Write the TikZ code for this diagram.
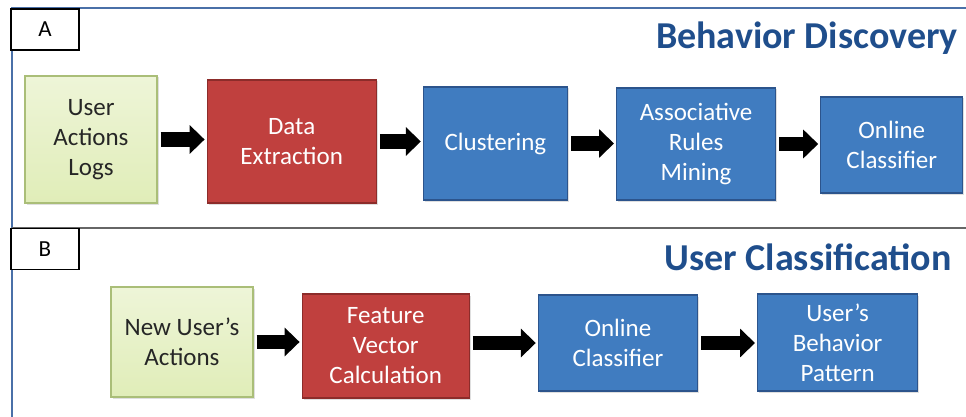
\documentclass[tikz,border=0pt]{standalone}
\usepackage{fontspec}
\setmainfont{Carlito}
\usetikzlibrary{arrows.meta, positioning, shadows}

\definecolor{frameblue}{RGB}{74,112,168}
\definecolor{titleblue}{RGB}{31,78,140}
\definecolor{boxblue}{RGB}{64,124,192}
\definecolor{boxblueline}{RGB}{44,84,140}
\definecolor{boxred}{RGB}{192,64,62}
\definecolor{boxredline}{RGB}{140,44,42}
\definecolor{boxgreen}{RGB}{224,237,184}
\definecolor{boxgreentop}{RGB}{238,245,216}
\definecolor{boxgreenline}{RGB}{170,190,120}

\begin{document}
\begin{tikzpicture}[
    x=1pt, y=-1pt,
    node distance=10pt and 48pt,
    box/.style={rectangle, draw, line width=1.2pt, inner sep=2pt, align=center, font=\fontsize{25}{30}\selectfont, drop shadow={shadow xshift=1.5pt, shadow yshift=-1.5pt, opacity=0.25}},
    logbox/.style={box, draw=boxgreenline, top color=boxgreentop, bottom color=boxgreen, text=black!85},
    redbox/.style={box, draw=boxredline, fill=boxred, text=white},
    bluebox/.style={box, draw=boxblueline, fill=boxblue, text=white},
    panel/.style={rectangle, draw=black, line width=1.6pt, fill=white, minimum width=68pt, minimum height=41pt, font=\fontsize{23}{27}\selectfont},
    heading/.style={font=\fontsize{38}{44}\selectfont\bfseries, text=titleblue, inner sep=0pt},
    arrow/.style={line width=14pt, -{Triangle[length=15pt, width=28pt]}, shorten <=3pt, shorten >=2pt}
]
\useasboundingbox (0,0) rectangle (966,417);

% Frame
\draw[frameblue, line width=2pt] (966,8) -- (12,8) -- (12,417);
\draw[black!60, line width=2pt] (12,228) -- (966,228);

% Panel A
\node (labA) [panel] at (45,29.5) {A};
\node (titleA) [heading, anchor=base east] at (958,49) {Behavior Discovery};

\node (logs) [logbox, minimum width=132pt, minimum height=127pt] at (91,139.5) {User\\Actions\\Logs};
\node (extract) [redbox, minimum width=169pt, minimum height=123pt, right=49pt of logs, yshift=-2pt] {Data\\Extraction};
\node (cluster) [bluebox, minimum width=144pt, minimum height=113pt, right=46pt of extract, yshift=-2pt] {Clustering};
\node (rules) [bluebox, minimum width=159pt, minimum height=112pt, right=48pt of cluster, yshift=-0.5pt] {Associative\\Rules\\Mining};
\node (online) [bluebox, minimum width=142pt, minimum height=96pt, right=44pt of rules, yshift=-1pt] {Online\\Classifier};

% Panel B
\node (labB) [panel] at (45,249) {B};
\node (titleB) [heading, anchor=base east] at (952,270) {User Classification};

\node (newact) [logbox, minimum width=142pt, minimum height=110pt] at (182,342) {New User’s\\Actions};
\node (feature) [redbox, minimum width=167pt, minimum height=104pt, right=48pt of newact, yshift=-4pt] {Feature\\Vector\\Calculation};
\node (onlineb) [bluebox, minimum width=159pt, minimum height=96pt, right=68pt of feature, yshift=3pt] {Online\\Classifier};
\node (pattern) [bluebox, minimum width=160pt, minimum height=97pt, right=59pt of onlineb, yshift=0.5pt] {User’s\\Behavior\\Pattern};

% Connections
\draw [arrow] (logs.east) -- (logs.east -| extract.west);
\draw [arrow] (extract.east) -- (extract.east -| cluster.west);
\draw [arrow] (cluster.east) -- (cluster.east -| rules.west);
\draw [arrow] (rules.east) -- (rules.east -| online.west);
\draw [arrow] (newact.east) -- (newact.east -| feature.west);
\draw [arrow] (onlineb.west -| feature.east) -- (onlineb.west);
\draw [arrow] (onlineb.east) -- (onlineb.east -| pattern.west);

\end{tikzpicture}
\end{document}
